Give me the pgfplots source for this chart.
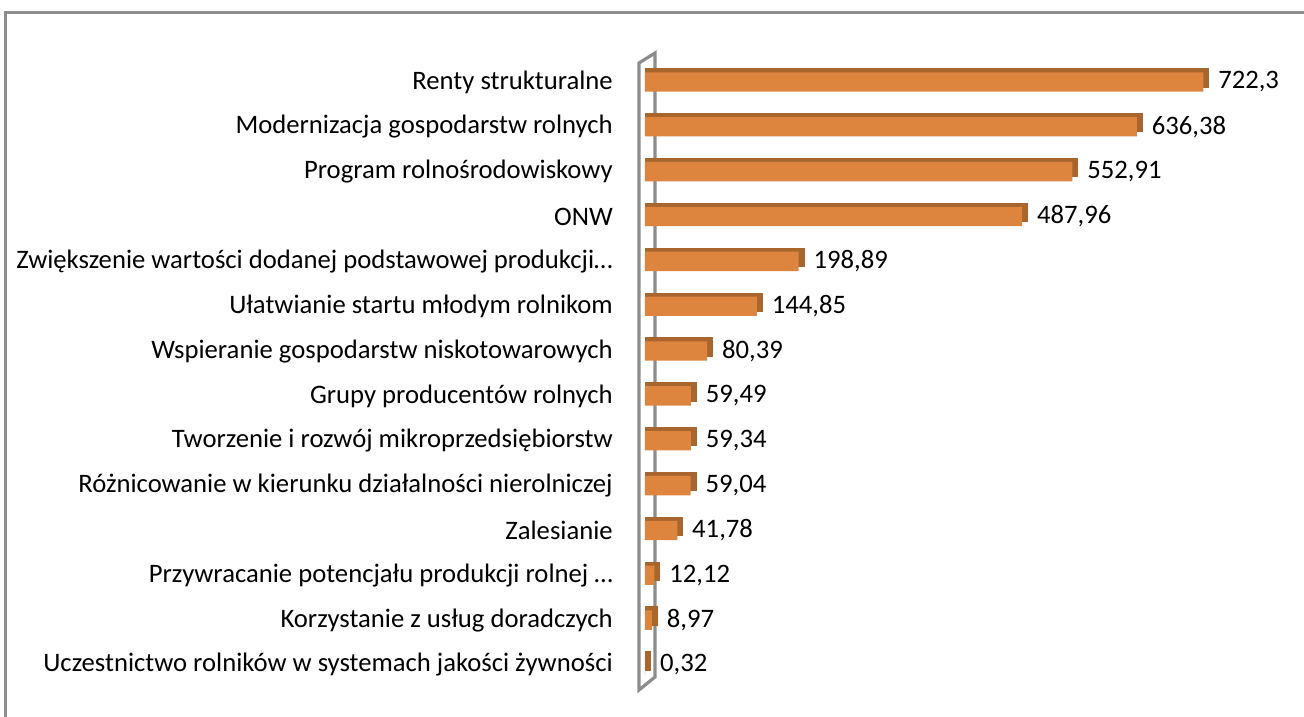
\documentclass[border=0pt]{standalone}
\usepackage{fontspec}
\setmainfont{Carlito}
\usepackage{pgfplots}
\pgfplotsset{compat=1.18}
\definecolor{barfront}{HTML}{DD843E}
\definecolor{barside}{HTML}{A8652E}
\definecolor{wallgray}{HTML}{8C8C8C}

\pgfplotstableread{
idx value
0  722.3
1  636.38
2  552.91
3  487.96
4  198.89
5  144.85
6  80.39
7  59.49
8  59.34
9  59.04
10 41.78
11 12.12
12 8.97
13 0.32
}\srodki

\begin{document}
\begin{tikzpicture}
\useasboundingbox (0pt,0pt) rectangle (978pt,537.75pt);
% frame around chart
\draw[wallgray, line width=2.25pt] (3.75pt,-3pt) -- (3.75pt,528pt) -- (985pt,528pt);
% 3d wall behind the bars
\draw[wallgray, line width=2.4pt, line join=miter]
  (479.25pt,20.25pt) -- (479.25pt,490.5pt) -- (491.25pt,498pt) -- (491.25pt,30pt) -- cycle;
\begin{axis}[
    at={(483.75pt,22.2pt)}, anchor=south west,
    scale only axis,
    width=463.8pt, height=470.9pt,
    xmin=0, xmax=800,
    ymin=-0.5, ymax=13.5,
    y dir=reverse,
    axis line style={draw=none},
    tick style={draw=none},
    xtick=\empty,
    ytick={0,...,13},
    yticklabels={
        Renty strukturalne,
        Modernizacja gospodarstw rolnych,
        Program rolnośrodowiskowy,
        ONW,
        Zwiększenie wartości dodanej podstawowej produkcji…,
        Ułatwianie startu młodym rolnikom,
        Wspieranie gospodarstw niskotowarowych,
        Grupy producentów rolnych,
        Tworzenie i rozwój mikroprzedsiębiorstw,
        Różnicowanie w kierunku działalności nierolniczej,
        Zalesianie,
        Przywracanie potencjału produkcji rolnej …,
        Korzystanie z usług doradczych\ ,
        Uczestnictwo rolników w systemach jakości żywności},
    yticklabel style={inner sep=0pt, xshift=-24pt, font=\fontsize{20pt}{24pt}\selectfont},
    clip=false,
    /pgf/number format/.cd, use comma, 1000 sep={}, assume math mode=true,
]
% side / top faces of the bars (depth box behind the front face)
\addplot[xbar, bar width=10pt, fill=barside, draw=barside, line width=4.5pt,
    line join=miter, xshift=2.25pt, yshift=3pt]
    table[x=value, y=idx] {\srodki};
% front faces
\addplot[xbar, bar width=14.5pt, fill=barfront, draw=none,
    nodes near coords,
    nodes near coords style={anchor=west, xshift=11pt, inner sep=0pt,
        font=\fontsize{20pt}{24pt}\selectfont, text=black}]
    table[x=value, y=idx] {\srodki};
\end{axis}
\end{tikzpicture}
\end{document}
